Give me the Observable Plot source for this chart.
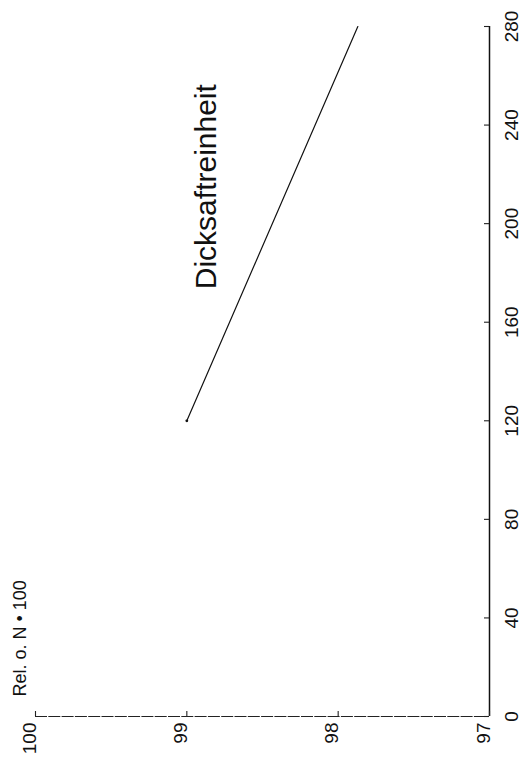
<!DOCTYPE html>
<html>
<head>
<meta charset="utf-8">
<script src="https://cdn.jsdelivr.net/npm/d3@7"></script>
<script src="https://cdn.jsdelivr.net/npm/@observablehq/plot@0.6"></script>
<style>
  html, body { margin: 0; padding: 0; background: #fff; }
  #chart svg { display: block; }
</style>
</head>
<body>
<div id="chart"></div>
<script>
// Data (chart is printed rotated 90° counter-clockwise)
const amount = [120, 280];          // horizontal quantity (runs bottom→top on page)
const relValue = [99.0, 97.87];     // Rel. o. N · 100
const amountTicks = [0, 40, 80, 120, 160, 200, 240, 280];
const relTicks = [100, 99, 98, 97];
const yTitle = "Rel. o. N \u2022 100";
const seriesName = "Dicksaftreinheit";
const seriesLabelAmount = 215;
const seriesLabelRel = 98.87;

const data = amount.map((a, i) => ({amount: a, rel: relValue[i]}));

const W = 527, H = 762;
const mL = 35, mR = 38, mT = 26, mB = 46;
const frameW = W - mL - mR, frameH = H - mT - mB;
const font = "'Liberation Sans', Arial, Helvetica, sans-serif";

const chart = Plot.plot({
  width: W,
  height: H,
  marginLeft: mL,
  marginRight: mR,
  marginTop: mT,
  marginBottom: mB,
  style: {fontFamily: font, background: "#fff", color: "#111", overflow: "visible"},
  x: {domain: [100, 97], axis: null},
  y: {domain: [0, 280], axis: null},
  marks: [
    // axis lines
    Plot.ruleY([0], {stroke: "#222", strokeWidth: 1.2, strokeDasharray: "12,1.3"}),
    Plot.ruleX([97], {stroke: "#111", strokeWidth: 1.5}),
    // inward ticks
    Plot.tickX(relTicks, {x: d => d, insetTop: frameH - 5, stroke: "#222", strokeWidth: 1.1}),
    Plot.tickY(amountTicks, {y: d => d, insetLeft: frameW - 5, stroke: "#222", strokeWidth: 1.1}),
    // tick labels
    Plot.text(relTicks, {
      x: d => d, text: d => String(d), frameAnchor: "bottom",
      rotate: -90, textAnchor: "end", dy: 6, fontSize: 19, fill: "#111"
    }),
    Plot.text(amountTicks, {
      y: d => d, text: d => String(d), frameAnchor: "right",
      rotate: -90, textAnchor: "middle", dx: 22, fontSize: 19, fill: "#111"
    }),
    // axis title
    Plot.text([yTitle], {
      text: d => d, frameAnchor: "bottom-left", rotate: -90,
      textAnchor: "start", dx: -10, dy: -20, fontSize: 18, fill: "#111"
    }),
    // series
    Plot.line(data, {x: "rel", y: "amount", stroke: "#111", strokeWidth: 1.2}),
    Plot.dot(data.slice(0, 1), {x: "rel", y: "amount", r: 1.4, fill: "#111"}),
    // series label
    Plot.text([{t: seriesName, a: seriesLabelAmount, r: seriesLabelRel}], {
      x: "r", y: "a", text: "t", rotate: -90, fontSize: 30, fill: "#111"
    })
  ]
});

document.getElementById("chart").appendChild(chart);
</script>
</body>
</html>
